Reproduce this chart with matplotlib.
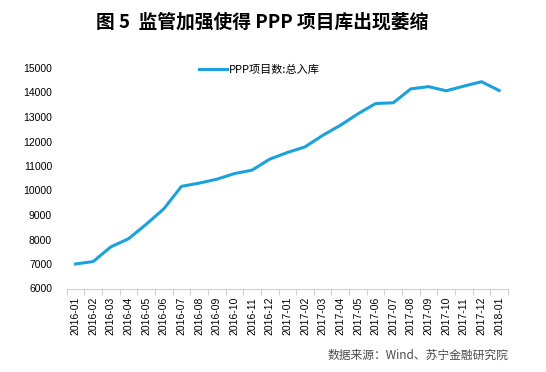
import matplotlib
matplotlib.use("Agg")
import matplotlib.pyplot as plt
import numpy as np

plt.rcParams['font.family'] = ['Noto Sans CJK SC', 'DejaVu Sans']

# data
months = ['2016-01', '2016-02', '2016-03', '2016-04', '2016-05', '2016-06',
          '2016-07', '2016-08', '2016-09', '2016-10', '2016-11', '2016-12',
          '2017-01', '2017-02', '2017-03', '2017-04', '2017-05', '2017-06',
          '2017-07', '2017-08', '2017-09', '2017-10', '2017-11', '2017-12',
          '2018-01']
ppp_total = [7000, 7100, 7700, 8030, 8620, 9250,
             10170, 10300, 10460, 10690, 10830, 11280,
             11550, 11780, 12250, 12660, 13130, 13550,
             13580, 14150, 14240, 14070, 14260, 14440,
             14080]
yticks = list(range(6000, 15001, 1000))

line_color = '#1BA1DC'
axis_gray = '#D0D0D0'
num_font = ['Liberation Sans', 'DejaVu Sans']

fig = plt.figure(figsize=(5.46, 3.72), dpi=100)
ax = fig.add_axes([66.7 / 546, 1 - 288.5 / 372, (508 - 66.7) / 546, (288.5 - 68) / 372])

x = np.arange(len(months))
ax.plot(x, ppp_total, color=line_color, linewidth=2.2, solid_joinstyle='round',
        label='PPP项目数:总入库')

ax.set_xlim(-0.5, len(months) - 0.5)
ax.set_ylim(6000, 15000)
ax.set_yticks(yticks)
ax.set_yticklabels([str(v) for v in yticks], fontsize=7.5, family=num_font)
ax.set_xticks(x)
ax.set_xticklabels(months, rotation=90, fontsize=7.5, family=num_font)
ax.set_xticks(np.arange(-0.5, len(months)), minor=True)
ax.tick_params(axis='x', which='major', length=0, pad=6)
ax.tick_params(axis='x', which='minor', length=4, color=axis_gray, width=0.8)
ax.tick_params(axis='y', length=0, pad=10.5)

for s in ['top', 'right', 'left']:
    ax.spines[s].set_visible(False)
ax.spines['bottom'].set_color(axis_gray)
ax.spines['bottom'].set_linewidth(0.8)

# legend sits a bit left of the plot centre, like in the source
ax.legend(loc='center', bbox_to_anchor=(259 / 546, 1 - 70 / 372),
          bbox_transform=fig.transFigure, frameon=False,
          fontsize=8, handlelength=2.6, handletextpad=0.1)

fig.text(262 / 546, 1 - 22 / 372, '图 5  监管加强使得 PPP 项目库出现萎缩', ha='center', va='center',
         fontsize=13.5, fontweight='bold')
fig.text(508 / 546, 1 - 355 / 372, '数据来源：Wind、苏宁金融研究院', ha='right', va='center',
         fontsize=8.5, style='italic', color='#4a4a4a')

fig.savefig('out.png', dpi=100)
